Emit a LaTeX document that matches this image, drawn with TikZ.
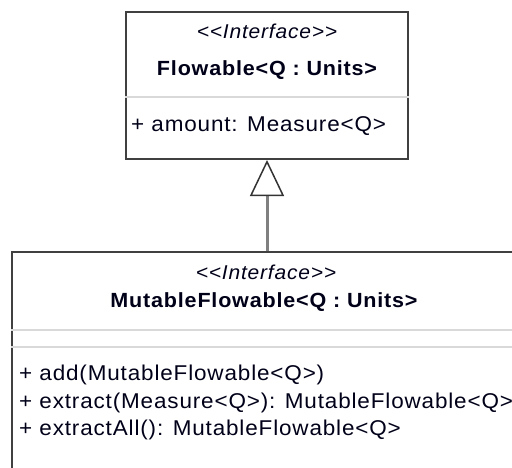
\documentclass[tikz,border=0pt]{standalone}
\usepackage{fontspec}
\setmainfont{Liberation Sans}[LetterSpace=4,FakeStretch=1.05]
\usetikzlibrary{arrows.meta}

\begin{document}
\begin{tikzpicture}[x=1pt,y=-1pt,
    umlbox/.style={draw=black!75, line width=2pt, fill=white, inner sep=0pt},
    sepline/.style={draw=black!15, line width=1.5pt},
    umltext/.style={inner sep=0pt, text=black!90!blue, font=\fontsize{21.4pt}{25pt}\selectfont},
    stereo/.style={umltext, font=\fontsize{20pt}{24pt}\selectfont\itshape},
    classname/.style={umltext, font=\fontsize{20.5pt}{25pt}\selectfont\bfseries},
    member/.style={umltext, anchor=west},
    realize/.style={draw=black!50, line width=3pt,
        -{Triangle[open, length=36pt, width=34pt, line width=1.5pt, color=black!80, fill=white]}}]
    \clip (0,0) rectangle (512,467);
    \fill [white] (0,0) rectangle (512,467);
    % interface Flowable
    \node (flowable) [umlbox, minimum width=282pt, minimum height=147pt] at (267,85.5) {};
    \draw [sepline] (flowable.west |- 0,97) -- (flowable.east |- 0,97);
    \node (flowableStereo) [stereo] at (267,31) {<{}<Interface>{}>};
    \node (flowableName) [classname] at (267,70) {Flowable<Q : Units>};
    \node (flowableAmount) [member] at (131,126) {+ amount: Measure<Q>};
    % interface MutableFlowable
    \node (mutable) [umlbox, minimum width=514pt, minimum height=250pt] at (269,377) {};
    \draw [sepline] (mutable.west |- 0,330) -- (mutable.east |- 0,330);
    \draw [sepline] (mutable.west |- 0,347) -- (mutable.east |- 0,347);
    \node (mutableStereo) [stereo] at (266,272) {<{}<Interface>{}>};
    \node (mutableName) [classname] at (264,302) {MutableFlowable<Q : Units>};
    \node (mutableAdd) [member] at (19,375) {+ add(MutableFlowable<Q>)};
    \node (mutableExtract) [member] at (19,403) {+ extract(Measure<Q>): MutableFlowable<Q>};
    \node (mutableExtractAll) [member] at (19,430) {+ extractAll(): MutableFlowable<Q>};
    % realization
    \draw [realize] (mutable.north -| flowable.south) -- (flowable.south);
\end{tikzpicture}
\end{document}
